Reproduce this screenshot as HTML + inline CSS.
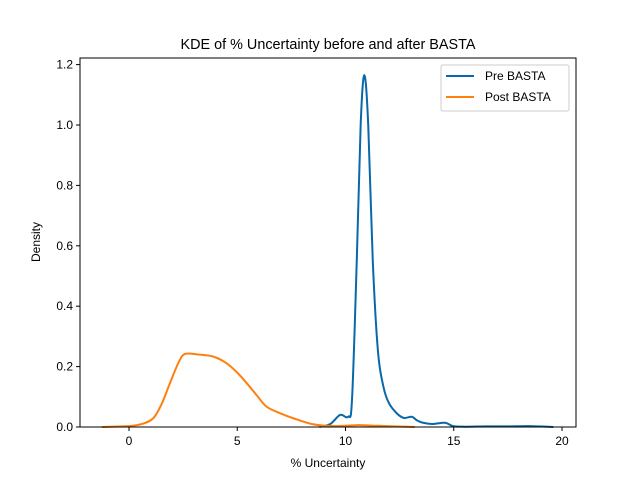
<!DOCTYPE html>
<html><head><meta charset="utf-8"><style>body{margin:0;background:#fff}svg{display:block;font-family:"Liberation Sans","DejaVu Sans",sans-serif}</style></head>
<body>
<svg id="chart" width="640" height="480" viewBox="0 0 640 480">
<rect width="640" height="480" fill="#fff"/>
<text x="328" y="49" font-size="14.4" text-anchor="middle">KDE of % Uncertainty before and after BASTA</text>
<g id="plot"></g>
<text x="328" y="467" font-size="12" text-anchor="middle">% Uncertainty</text>
<text transform="translate(40,242) rotate(-90)" font-size="12" text-anchor="middle">Density</text>
<g>
<rect x="441" y="65" width="128" height="46" rx="2" fill="#fff" fill-opacity="0.8" stroke="#ccc"/>
<line x1="446" y1="76" x2="474" y2="76" stroke="#0868a8" stroke-width="2"/>
<text x="485" y="80" font-size="12">Pre BASTA</text>
<line x1="446" y1="97" x2="474" y2="97" stroke="#ff7f0e" stroke-width="2"/>
<text x="485" y="101" font-size="12">Post BASTA</text>
</g>
</svg>
<script>
const preX=[8.8,9.3,9.75,10.12,10.3,10.52,10.7,10.87,11.05,11.26,11.5,11.75,12.0,12.36,12.7,13.06,13.3,13.58,14.0,14.6,14.97,15.5,16.5,17.5,18.5,19.6];
const preY=[0,0.01,0.04,0.034,0.09,0.55,1.0,1.165,1.0,0.55,0.25,0.134,0.08,0.046,0.03,0.034,0.022,0.014,0.01,0.014,0.003,0.001,0.002,0.002,0.003,0];
const postX=[-1.26,0,0.6,1.12,1.5,1.89,2.3,2.59,3.2,3.9,4.51,5.0,5.44,5.9,6.36,7.0,7.59,8.5,9.5,10.5,11.5,12.3,13.2];
const postY=[0,0.003,0.01,0.029,0.075,0.145,0.215,0.242,0.24,0.233,0.211,0.18,0.145,0.105,0.067,0.045,0.029,0.009,0.003,0.006,0.004,0.002,0];
const xTicks=[0,5,10,15,20];
const yTicks=[0,0.2,0.4,0.6,0.8,1.0,1.2];
const L=80,R=576,T=58,B=427;
const sx=v=>129+v*21.65, sy=v=>427-v*302;
const NS='http://www.w3.org/2000/svg', g=document.getElementById('plot');
function el(t,a){const e=document.createElementNS(NS,t);for(const k in a)e.setAttribute(k,a[k]);g.appendChild(e);return e;}
function path(xs,ys){const p=xs.map((x,i)=>[sx(x),sy(ys[i])]);let d='M'+p[0];for(let i=0;i<p.length-1;i++){const p0=p[i-1]||p[i],p1=p[i],p2=p[i+1],p3=p[i+2]||p2;const c1=[p1[0]+(p2[0]-p0[0])/6,p1[1]+(p2[1]-p0[1])/6],c2=[p2[0]-(p3[0]-p1[0])/6,p2[1]-(p3[1]-p1[1])/6];d+='C'+c1+' '+c2+' '+p2;}return d;}
const a=el('path',{d:path(preX,preY),fill:'none',stroke:'#0868a8','stroke-width':2});


const b=el('path',{d:path(postX,postY),fill:'none',stroke:'#ff7f0e','stroke-width':2});


const fr=el('rect',{x:L,y:T,width:R-L,height:B-T,fill:'none',stroke:'#000','stroke-width':1});


xTicks.forEach(v=>{const x=sx(v);el('line',{x1:x,x2:x,y1:B,y2:B+4,stroke:'#000'});const t=el('text',{x:x,y:B+18,'font-size':12,'text-anchor':'middle'});t.textContent=v;

});
yTicks.forEach(v=>{const y=sy(v);el('line',{x1:L-4,x2:L,y1:y,y2:y,stroke:'#000'});const t=el('text',{x:L-7,y:y+4,'font-size':12,'text-anchor':'end'});t.textContent=v.toFixed(1);

});
</script>
</body></html>
